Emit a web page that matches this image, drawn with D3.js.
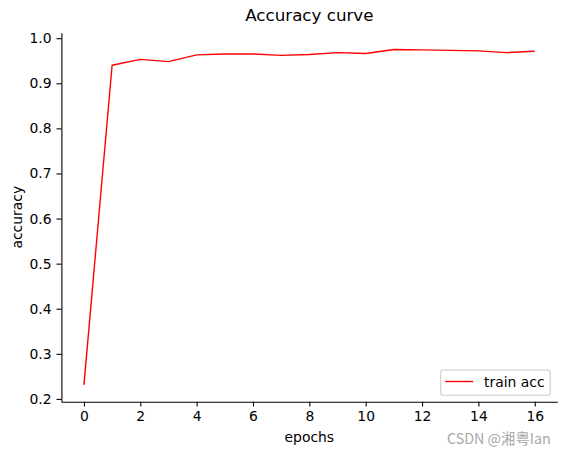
<!DOCTYPE html>
<html><head><meta charset="utf-8">
<script src="https://cdn.jsdelivr.net/npm/d3@7"></script>
<style>body{margin:0;background:#fff}svg{display:block}text{font-family:"DejaVu Sans",sans-serif}</style>
</head><body>
<svg id="c" width="567" height="455"></svg>
<script>
const epochs = [0,1,2,3,4,5,6,7,8,9,10,11,12,13,14,15,16];
const trainAcc = [0.231,0.940,0.953,0.948,0.963,0.965,0.965,0.962,0.964,0.968,0.966,0.975,0.974,0.973,0.972,0.968,0.971];
const xTicks = [0,2,4,6,8,10,12,14,16];
const yTicks = [0.2,0.3,0.4,0.5,0.6,0.7,0.8,0.9,1.0];

const svg = d3.select("#c");
const L = 61.4, R = 557.3, T = 32.7, B = 401.7;
const xmin = -0.8, xmax = 16.8;
const yr = d3.max(trainAcc) - d3.min(trainAcc);
const x = d3.scaleLinear().domain([xmin, xmax]).range([L, R]);
const y = d3.scaleLinear().domain([d3.min(trainAcc) - 0.05*yr, d3.max(trainAcc) + 0.05*yr]).range([B, T]);

const xAxis = d3.axisBottom(x).tickValues(xTicks).tickFormat(d3.format("d")).tickSizeInner(4.9).tickSizeOuter(0).tickPadding(4.9);
const yAxis = d3.axisLeft(y).tickValues(yTicks).tickFormat(d3.format(".1f")).tickSizeInner(4.9).tickSizeOuter(0).tickPadding(4.9);

const gx = svg.append("g").attr("transform", `translate(0,${B})`).call(xAxis);
const gy = svg.append("g").attr("transform", `translate(${L},0)`).call(yAxis);
[gx, gy].forEach(g => {
  g.selectAll("text").attr("font-size", "13.9px").attr("fill", "#000").attr("font-family", "DejaVu Sans");
  g.selectAll("line").attr("stroke", "#000").attr("stroke-width", 1.1);
  g.select(".domain").attr("stroke", "#000").attr("stroke-width", 1.1);
});

svg.append("path")
  .datum(epochs.map((e, i) => [e, trainAcc[i]]))
  .attr("fill", "none").attr("stroke", "#ff0000").attr("stroke-width", 1.4)
  .attr("stroke-linejoin", "round")
  .attr("d", d3.line().x(d => x(d[0])).y(d => y(d[1])));

svg.append("text").attr("x", (L+R)/2).attr("y", 21).attr("text-anchor", "middle")
  .attr("font-size", "16.7px").text("Accuracy curve");
svg.append("text").attr("x", (L+R)/2).attr("y", 441.5).attr("text-anchor", "middle")
  .attr("font-size", "13.9px").text("epochs");
svg.append("text").attr("transform", `translate(21.7,${(T+B)/2}) rotate(-90)`).attr("text-anchor", "middle")
  .attr("font-size", "13.9px").text("accuracy");

// legend
const lg = svg.append("g");
lg.append("rect").attr("x", 440.7).attr("y", 370).attr("width", 109.5).attr("height", 25.3)
  .attr("rx", 2.8).attr("fill", "#fff").attr("fill-opacity", 0.8).attr("stroke", "#cccccc").attr("stroke-width", 1.1);
lg.append("line").attr("x1", 445.2).attr("x2", 473.2).attr("y1", 381.5).attr("y2", 381.5)
  .attr("stroke", "#ff0000").attr("stroke-width", 1.4);
lg.append("text").attr("x", 484).attr("y", 386.5).attr("font-size", "13.9px").text("train acc");

svg.append("text").attr("x", 550.7).attr("y", 443.5).attr("text-anchor", "end")
  .attr("font-size", "14.3px").attr("fill", "#a8a8a8").style("font-family", "'Noto Sans CJK SC', 'Noto Sans', sans-serif").text("CSDN @湘粤Ian");
</script>
</body></html>
